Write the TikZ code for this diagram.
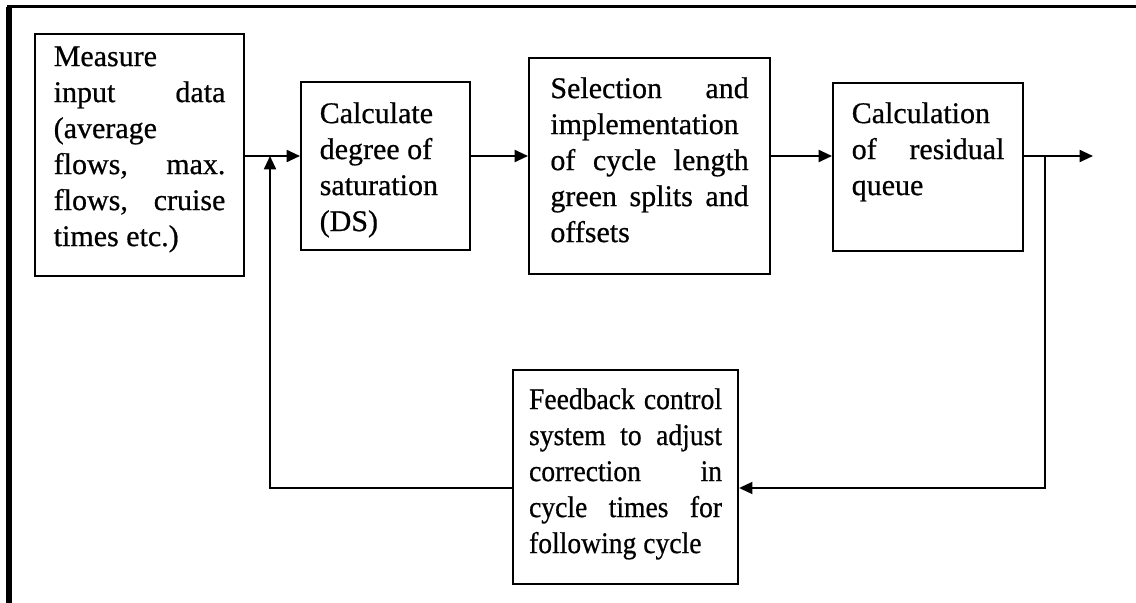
\documentclass[tikz,border=0pt]{standalone}
\usepackage{fontspec}
\setmainfont{Liberation Serif}[BoldFont={Liberation Serif}, BoldFeatures={FakeBold=0.6}]
\usepackage{tikz}
\usetikzlibrary{arrows.meta}

% box body: width, height, first baseline, text
\newcommand{\stagebody}[4]{\parbox[t][#2][t]{#1}{\rule{0pt}{#3}#4}}

\tikzset{
  stage/.style={draw, line width=1.6pt, anchor=north west, inner ysep=0pt,
    font=\fontsize{22.5}{27}\selectfont\bfseries},
  flow/.style={line width=1.4pt, -{Triangle[length=10pt,width=9pt]}}
}

\begin{document}
\begin{tikzpicture}[x=0.75pt,y=0.75pt,yscale=-1,xscale=1]
        \useasboundingbox (0,0) rectangle (1136,603);

        % Outer frame
        \draw [line width=4pt] (9,603) -- (9,6.5) ;
        \draw [line width=2.5pt] (7,6.7) -- (1136,6.7) ;

        % Stages
        \node (measure) [stage, inner xsep=14pt] at (34,33)
            {\stagebody{128.75pt}{181.5pt}{24pt}{Measure\\
             input data\linebreak (average\\
             flows, max.\linebreak flows, cruise\linebreak times etc.)}};
        \node (satur) [stage, inner xsep=14pt] at (300,81)
            {\stagebody{98.75pt}{126pt}{30.75pt}{Calculate\\ degree of\\ saturation\\ (DS)}};
        \node (select) [stage, inner xsep=16pt] at (528,57)
            {\stagebody{148.75pt}{162pt}{30pt}{Selection and\linebreak implementation\\
             of cycle length\linebreak green splits and\linebreak offsets}};
        \node (resid) [stage, inner xsep=14pt] at (832,82)
            {\stagebody{114.5pt}{126pt}{30pt}{Calculation\\ of residual\linebreak queue}};
        \node (feedback) [stage, inner xsep=12pt, font=\fontsize{22.5}{27}\selectfont\bfseries\addfontfeature{FakeStretch=0.92}] at (512,369)
            {\stagebody{144.75pt}{160.5pt}{29.25pt}{Feedback control\linebreak
             system to adjust\linebreak correction in\linebreak
             cycle times for\linebreak following cycle}};

        % Signal lines
        \coordinate (mainline) at (0,156);
        \coordinate (fbline) at (0,488);
        \coordinate (joinin) at (270,156);
        \coordinate (joinout) at (1045,156);
        \coordinate (exit) at (1093,156);

        \draw [flow] (measure.east |- mainline) -- (satur.west |- mainline) ;
        \draw [flow] (satur.east |- mainline) -- (select.west |- mainline) ;
        \draw [flow] (select.east |- mainline) -- (resid.west |- mainline) ;
        \draw [flow] (resid.east |- mainline) -- (exit) ;
        \draw [flow] (joinout) |- (feedback.east |- fbline) ;
        \draw [flow] (feedback.west |- fbline) -| (joinin) ;

\end{tikzpicture}
\end{document}
